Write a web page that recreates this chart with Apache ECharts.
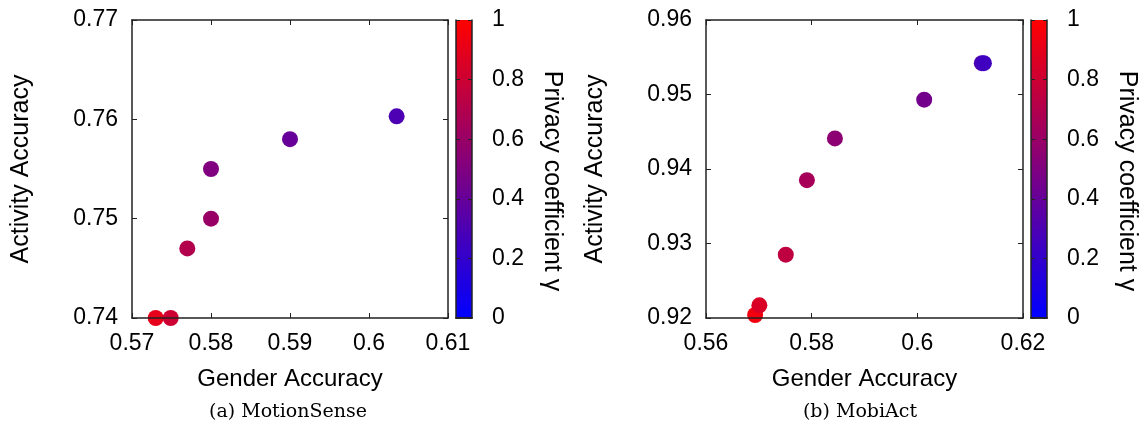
<!DOCTYPE html>
<html>
<head>
<meta charset="utf-8">
<script src="https://cdn.jsdelivr.net/npm/echarts@6/dist/echarts.min.js"></script>
<style>
html,body{margin:0;padding:0;background:#fff}
#main{width:1143px;height:425px}
</style>
</head>
<body>
<div id="main"></div>
<script>
// (a) MotionSense
var msGender   = [0.5730, 0.5749, 0.5770, 0.5800, 0.5800, 0.5900, 0.6035];
var msActivity = [0.7400, 0.7400, 0.7470, 0.7500, 0.7550, 0.7580, 0.7603];
var msGamma    = [0.9, 0.8, 0.7, 0.6, 0.5, 0.4, 0.3];

// (b) MobiAct
var maGender   = [0.5693, 0.5701, 0.5751, 0.5791, 0.5844, 0.6013, 0.6122, 0.6126];
var maActivity = [0.9204, 0.9217, 0.9285, 0.9385, 0.9441, 0.9493, 0.9542, 0.9542];
var maGamma    = [0.95, 0.85, 0.75, 0.65, 0.55, 0.45, 0.3, 0.25];

// 坐标轴范围
var msXRange = [0.57, 0.61, 0.01];
var msYRange = [0.74, 0.77, 0.01];
var maXRange = [0.56, 0.62, 0.02];
var maYRange = [0.92, 0.96, 0.01];
var cbRange  = [0, 1, 0.2];

var FONT = 'Liberation Sans, Arial, sans-serif';
var lineCol = '#222';

function fmt(v){ return parseFloat(v.toFixed(2)).toString(); }

function toPoints(xs, ys, gs){
    return xs.map(function(x, i){ return [x, ys[i], gs[i]]; });
}

//主图的坐标轴：下/左有刻度标签，上/右只有刻度
function valueAxis(grid, pos, range, withLabel, name){
    var ax = {
        type:'value', gridIndex:grid, position:pos,
        min:range[0], max:range[1], interval:range[2], z:10,
        axisLine:{show:true, onZero:false, lineStyle:{color:lineCol, width:1.5}},
        axisTick:{show:true, inside:true, length:5, lineStyle:{color:lineCol, width:1}},
        axisLabel:{show:withLabel, formatter:fmt, color:'#000', fontSize:23, fontFamily:FONT, margin:14},
        splitLine:{show:false}
    };
    if(name){
        ax.name = name;
        ax.nameLocation = 'middle';
        if(pos === 'bottom'){
            ax.nameGap = 49;
            ax.nameTextStyle = {color:'#000', fontSize:24, fontFamily:FONT};
        }else{
            ax.nameGap = 98;
            ax.nameTextStyle = {color:'#000', fontSize:25, fontFamily:FONT};
        }
    }
    return ax;
}

//颜色条的坐标轴
function cbAxis(grid, pos, withLabel){
    var ax = {
        type:'value', gridIndex:grid, position:pos,
        min:cbRange[0], max:cbRange[1], interval:cbRange[2], z:10,
        axisLine:{show:true, lineStyle:{color:lineCol, width:1.5}},
        axisTick:{show:true, inside:true, length:4, lineStyle:{color:lineCol, width:1}},
        axisLabel:{show:withLabel, formatter:fmt, color:'#000', fontSize:23, fontFamily:FONT, margin:20},
        splitLine:{show:false}
    };
    if(withLabel){
        ax.name = 'Privacy coefficient γ';
        ax.nameLocation = 'middle';
        ax.nameRotate = -90;
        ax.nameGap = 67;
        ax.nameTextStyle = {color:'#000', fontSize:25, fontFamily:FONT, padding:[0,0,0,24]};
    }
    return ax;
}

function cbXAxis(grid, pos){
    return {
        type:'category', gridIndex:grid, position:pos, data:['c'], z:10,
        axisLine:{show:true, lineStyle:{color:lineCol, width:1.5}},
        axisTick:{show:false}, axisLabel:{show:false}, splitLine:{show:false}
    };
}

var gradient = new echarts.graphic.LinearGradient(0, 0, 0, 1, [
    {offset:0, color:'#ff0000'},
    {offset:1, color:'#0000ff'}
]);

function scatterSeries(xi, yi, pts){
    return {
        type:'scatter', xAxisIndex:xi, yAxisIndex:yi, data:pts,
        symbolSize:16, clip:false, z:3,
        itemStyle:{opacity:1}
    };
}

function barSeries(xi, yi){
    return {
        type:'bar', xAxisIndex:xi, yAxisIndex:yi, data:[1],
        barWidth:'100%', silent:true, itemStyle:{color:gradient}
    };
}

var chartDom = document.getElementById('main');
var myChart = echarts.init(chartDom);

var option = {
    backgroundColor:'#fff',
    animation:false,
    grid:[
        {left:132, top:20, width:316, height:298},
        {left:456, top:20, width:16, height:298},
        {left:706, top:20, width:317, height:298},
        {left:1031, top:20, width:16, height:298}
    ],
    xAxis:[
        valueAxis(0, 'bottom', msXRange, true, 'Gender Accuracy'),
        valueAxis(0, 'top', msXRange, false),
        cbXAxis(1, 'bottom'),
        cbXAxis(1, 'top'),
        valueAxis(2, 'bottom', maXRange, true, 'Gender Accuracy'),
        valueAxis(2, 'top', maXRange, false),
        cbXAxis(3, 'bottom'),
        cbXAxis(3, 'top')
    ],
    yAxis:[
        valueAxis(0, 'left', msYRange, true, 'Activity Accuracy'),
        valueAxis(0, 'right', msYRange, false),
        cbAxis(1, 'left', false),
        cbAxis(1, 'right', true),
        valueAxis(2, 'left', maYRange, true, 'Activity Accuracy'),
        valueAxis(2, 'right', maYRange, false),
        cbAxis(3, 'left', false),
        cbAxis(3, 'right', true)
    ],
    visualMap:[
        {type:'continuous', show:false, seriesIndex:0, dimension:2, min:0, max:1,
         inRange:{color:['#0000ff', '#ff0000']}},
        {type:'continuous', show:false, seriesIndex:2, dimension:2, min:0, max:1,
         inRange:{color:['#0000ff', '#ff0000']}}
    ],
    series:[
        scatterSeries(0, 0, toPoints(msGender, msActivity, msGamma)),
        barSeries(2, 2),
        scatterSeries(4, 4, toPoints(maGender, maActivity, maGamma)),
        barSeries(6, 6)
    ],
    graphic:[
        {type:'text', x:288, y:412, style:{text:'(a) MotionSense', font:'19px "DejaVu Serif", serif', fill:'#000', align:'center', verticalAlign:'middle'}},
        {type:'text', x:860, y:412, style:{text:'(b) MobiAct', font:'19px "DejaVu Serif", serif', fill:'#000', align:'center', verticalAlign:'middle'}}
    ]
};

myChart.setOption(option);
</script>
</body>
</html>
